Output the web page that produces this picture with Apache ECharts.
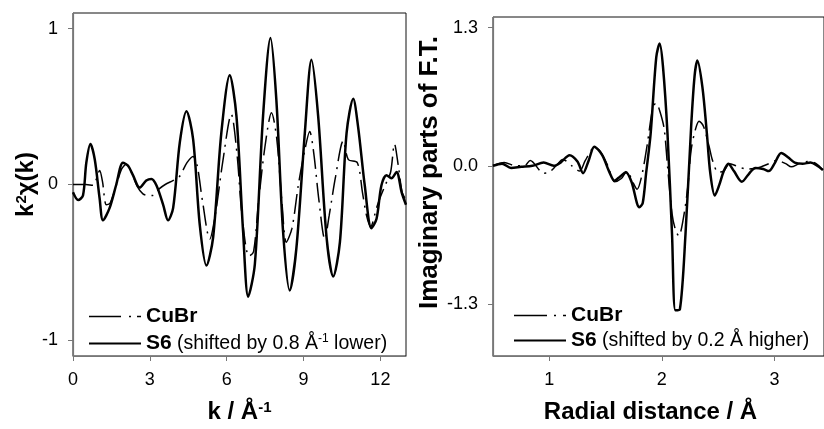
<!DOCTYPE html>
<html><head><meta charset="utf-8">
<script src="https://cdn.jsdelivr.net/npm/echarts@6/dist/echarts.min.js"></script>
<style>html,body{margin:0;padding:0;background:#fff}#c{width:824px;height:429px}</style>
</head><body><div id="c"></div>
<script>
// ---- tick values ----
const kXTicks = [0, 3, 6, 9, 12];
const kYTicks = [-1, 0, 1];
const rXTicks = [1, 2, 3];
const rYTicks = [-1.3, 0, 1.3];

// ---- left panel: k^2 chi(k) ----
const kCuBrX = [0,0.5,0.78,0.9,1.04,1.15,1.3,1.45,1.7,1.9,2.08,2.3,2.5,2.73,2.95,3.12,3.35,3.6,3.9,4.15,4.45,4.69,4.85,5.05,5.34,5.55,5.85,6.18,6.4,6.6,6.87,7.05,7.25,7.5,7.75,7.95,8.15,8.33,8.55,8.8,9.05,9.24,9.4,9.6,9.83,10.0,10.25,10.55,10.75,11.1,11.3,11.46,11.62,11.85,12.0,12.2,12.4,12.55,12.7,12.85,13.0];
const kCuBrY = [0,0,-0.005,0.03,0.09,0.02,-0.13,-0.12,0.0,0.10,0.13,0.07,-0.01,-0.06,-0.07,-0.07,-0.03,0.0,0.025,0.05,0.14,0.18,0.12,-0.1,-0.35,-0.2,0.15,0.45,0.2,-0.2,-0.46,-0.43,-0.1,0.25,0.46,0.3,-0.1,-0.37,-0.28,0.0,0.22,0.34,0.2,-0.1,-0.35,-0.2,0.05,0.28,0.16,0.14,-0.05,-0.2,-0.27,-0.15,-0.08,0.0,0.08,0.26,0.12,-0.05,-0.1];
const kS6X = [0,0.2,0.39,0.52,0.68,0.85,1.04,1.17,1.43,1.69,1.95,2.15,2.34,2.6,2.86,3.06,3.26,3.52,3.71,3.91,4.17,4.43,4.69,4.95,5.21,5.47,5.79,6.12,6.38,6.64,6.84,7.10,7.42,7.71,7.94,8.20,8.46,8.72,9.05,9.31,9.57,9.90,10.16,10.42,10.68,10.94,11.13,11.39,11.65,11.85,12.04,12.24,12.43,12.63,12.83,13.0];
const kS6Y = [-0.05,-0.10,-0.07,0.14,0.26,0.16,-0.09,-0.23,-0.15,0.0,0.14,0.12,0.06,-0.02,0.025,0.036,-0.006,-0.13,-0.23,-0.15,0.27,0.47,0.29,-0.26,-0.52,-0.34,0.33,0.70,0.44,-0.30,-0.72,-0.51,0.44,0.94,0.54,-0.30,-0.68,-0.41,0.33,0.80,0.44,-0.34,-0.59,-0.37,0.33,0.55,0.37,-0.006,-0.28,-0.22,-0.006,0.06,0.04,0.08,-0.05,-0.13];

// ---- right panel: imaginary part of F.T. ----
const rCuBrX = [0.5,0.6,0.7,0.78,0.83,0.95,1.0,1.06,1.12,1.2,1.27,1.32,1.4,1.45,1.52,1.58,1.64,1.69,1.74,1.78,1.82,1.87,1.92,1.95,1.98,2.02,2.05,2.09,2.12,2.15,2.19,2.23,2.26,2.30,2.33,2.37,2.42,2.45,2.5,2.55,2.6,2.66,2.75,2.85,2.95,3.02,3.1,3.15,3.22,3.3,3.37,3.43];
const rCuBrY = [0.0,0.03,0.0,0.0,0.05,-0.07,-0.06,0.0,0.06,0.0,-0.05,0.05,0.17,0.14,0.0,-0.15,-0.12,-0.05,-0.15,-0.22,-0.1,0.2,0.55,0.59,0.52,0.35,0.0,-0.45,-0.6,-0.66,-0.5,-0.2,0.15,0.35,0.42,0.37,0.18,0.05,-0.06,-0.05,0.02,0.0,-0.03,-0.02,0.02,0.05,0.02,-0.01,0.02,0.04,0.02,-0.04];
const rS6X = [0.5,0.58,0.66,0.75,0.85,0.95,1.04,1.1,1.18,1.25,1.3,1.35,1.4,1.47,1.53,1.58,1.63,1.68,1.73,1.8,1.83,1.86,1.9,1.95,1.98,2.01,2.05,2.09,2.12,2.16,2.21,2.26,2.29,2.315,2.36,2.40,2.43,2.47,2.51,2.55,2.59,2.64,2.71,2.77,2.83,2.9,2.95,3.0,3.06,3.12,3.18,3.25,3.32,3.38,3.43];
const rS6Y = [0.0,0.02,-0.02,-0.01,0.0,0.03,0.0,0.03,0.1,0.04,-0.07,0.05,0.18,0.1,-0.05,-0.14,-0.1,-0.06,-0.15,-0.39,-0.35,-0.07,0.30,1.02,1.15,0.93,0.30,-0.64,-1.36,-1.35,-0.64,0.37,0.84,0.99,0.74,0.30,-0.07,-0.28,-0.18,-0.05,0.02,-0.05,-0.15,-0.08,-0.02,-0.03,-0.05,0.02,0.12,0.08,0.03,0.02,0.03,0.0,-0.04];

const zip = (xs, ys) => xs.map((x, i) => [x, ys[i]]);
const FONT = '"Liberation Sans", Arial, Helvetica, sans-serif';
const AX = '#777';
const FRAME = '#111';
const DASH = [20, 6, 2, 6];

const chart = echarts.init(document.getElementById('c'), null, {renderer: 'canvas'});

function xAxisCfg(grid, min, max, ticks, name, nameRich, pad) {
  return {
    type: 'value', gridIndex: grid, min: min, max: max, z: 3,
    axisLine: {show: true, onZero: false, lineStyle: {color: AX, width: 1.2}},
    axisTick: {show: true, inside: false, length: 5, customValues: ticks, lineStyle: {color: AX}},
    axisLabel: {customValues: ticks, margin: 15, color: '#000', fontSize: 18, fontFamily: FONT},
    splitLine: {show: false},
    name: name, nameLocation: 'middle', nameGap: 44,
    nameTextStyle: {fontFamily: FONT, fontSize: 24, fontWeight: 'bold', color: '#000', rich: nameRich, padding: pad}
  };
}
function yAxisCfg(grid, min, max, ticks, fmt, name, nameRich, gap, pad, margin, fs) {
  return {
    type: 'value', gridIndex: grid, min: min, max: max, z: 3,
    axisLine: {show: true, onZero: false, lineStyle: {color: AX, width: 1.2}},
    axisTick: {show: true, inside: false, length: 5, customValues: ticks, lineStyle: {color: AX}},
    axisLabel: {customValues: ticks, margin: margin, color: '#000', fontSize: 18, fontFamily: FONT, formatter: fmt},
    splitLine: {show: false},
    name: name, nameLocation: 'middle', nameGap: gap,
    nameTextStyle: {fontFamily: FONT, fontSize: fs, fontWeight: 'bold', color: '#000', rich: nameRich, padding: pad}
  };
}
const bigRich = {
  a: {fontFamily: FONT, fontSize: 24, fontWeight: 'bold', color: '#000'},
  s: {fontFamily: FONT, fontSize: 15, fontWeight: 'bold', color: '#000', verticalAlign: 'top'}
};
const ftRich = {
  a: {fontFamily: FONT, fontSize: 26, fontWeight: 'bold', color: '#000'}
};
const legRich = {
  b: {fontFamily: FONT, fontSize: 21, fontWeight: 'bold', color: '#000'},
  n: {fontFamily: FONT, fontSize: 19.5, color: '#000'},
  s: {fontFamily: FONT, fontSize: 12, color: '#000', verticalAlign: 'top'}
};
const legendNames = {
  'CuBr-k': '{b|CuBr}',
  'S6-k': '{b|S6}{n| (shifted by 0.8 Å}{s|-1}{n| lower)}',
  'CuBr-R': '{b|CuBr}',
  'S6-R': '{b|S6}{n| (shifted by 0.2 Å higher)}'
};
const noSym = {color: 'rgba(0,0,0,0)', borderColor: 'rgba(0,0,0,0)', borderWidth: 0};

const option = {
  animation: false,
  backgroundColor: '#fff',
  grid: [
    {left: 73, top: 13, width: 333, height: 346, show: true, borderColor: FRAME, borderWidth: 1, containLabel: false},
    {left: 493, top: 17, width: 333, height: 339, show: true, borderColor: FRAME, borderWidth: 1, containLabel: false}
  ],
  xAxis: [
    xAxisCfg(0, 0, 13, kXTicks, '{a|k / Å}{s|-1}', bigRich, [0, 0, 0, 0]),
    xAxisCfg(1, 0.5, 3.44, rXTicks, 'Radial distance / Å', bigRich, [0, 16, 0, 0])
  ],
  yAxis: [
    yAxisCfg(0, -1.1, 1.1, kYTicks, v => String(v), '{a|k}{s|2}{a|χ(k)}', bigRich, 33, [0, 0, 0, 0], 15, 24),
    yAxisCfg(1, -1.79, 1.40, rYTicks, v => v.toFixed(1), '{a|Imaginary parts of F.T.}', ftRich, 36, [0, 0, 0, 28], 15, 26)
  ],
  legend: [
    {data: [
       {name: 'CuBr-k', itemStyle: noSym, lineStyle: {type: [32, 8, 2, 6], width: 1.5}},
       {name: 'S6-k', itemStyle: noSym}
     ], orient: 'vertical', left: 83, top: 301, itemWidth: 52, itemHeight: 14, itemGap: 6,
     formatter: n => legendNames[n], textStyle: {rich: legRich}, selectedMode: false},
    {data: [
       {name: 'CuBr-R', itemStyle: noSym, lineStyle: {type: [33, 7, 2, 7], width: 1.5}},
       {name: 'S6-R', itemStyle: noSym}
     ], orient: 'vertical', left: 508, top: 300, itemWidth: 52, itemHeight: 14, itemGap: 4,
     formatter: n => legendNames[n], textStyle: {rich: legRich}, selectedMode: false}
  ],
  series: [
    {name: 'CuBr-k', type: 'line', xAxisIndex: 0, yAxisIndex: 0, data: zip(kCuBrX, kCuBrY), symbol: 'none', smooth: 0.3,
     lineStyle: {color: '#000', width: 1.5, type: DASH}, itemStyle: {color: '#000'}},
    {name: 'S6-k', type: 'line', xAxisIndex: 0, yAxisIndex: 0, data: zip(kS6X, kS6Y), symbol: 'none', smooth: 0.3,
     lineStyle: {color: '#000', width: 2.5}, itemStyle: {color: '#000'}},
    {name: 'CuBr-R', type: 'line', xAxisIndex: 1, yAxisIndex: 1, data: zip(rCuBrX, rCuBrY), symbol: 'none', smooth: 0.3,
     lineStyle: {color: '#000', width: 1.5, type: DASH}, itemStyle: {color: '#000'}},
    {name: 'S6-R', type: 'line', xAxisIndex: 1, yAxisIndex: 1, data: zip(rS6X, rS6Y), symbol: 'none', smooth: 0.3,
     lineStyle: {color: '#000', width: 2.5}, itemStyle: {color: '#000'}}
  ]
};
chart.setOption(option);
</script>
</body></html>
